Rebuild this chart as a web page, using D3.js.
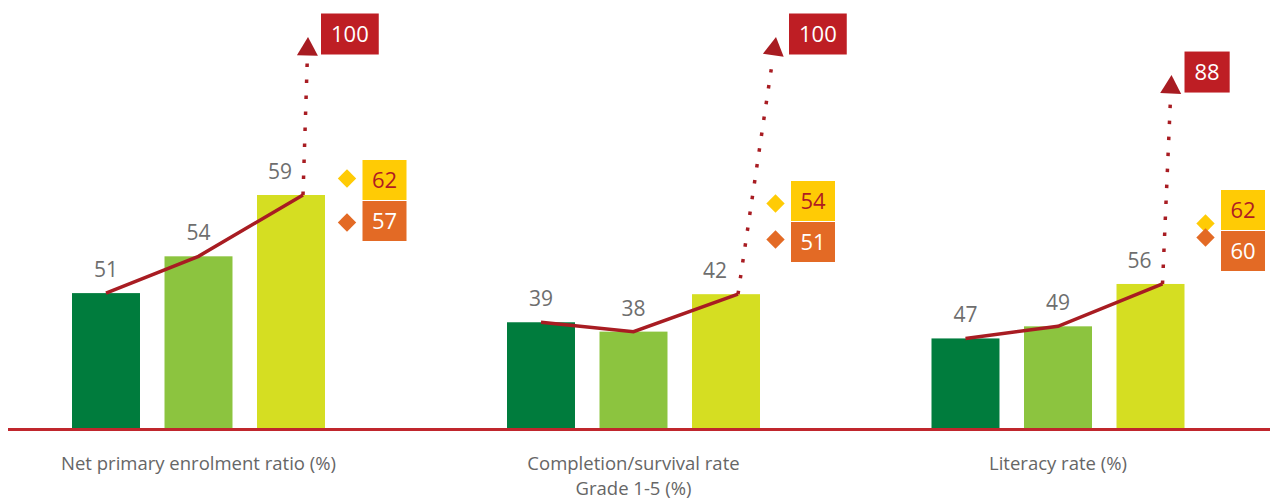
<!DOCTYPE html>
<html>
<head>
<meta charset="utf-8">
<title>Education indicators</title>
<script src="https://d3js.org/d3.v7.min.js"></script>
<style>
  * { margin: 0; padding: 0; }
  body { background: #fff; font-family: "Open Sans", "Noto Sans", sans-serif; }
  .val { fill: #6e6e6e; font-size: 21px; }
  .cat { fill: #666; font-size: 18.5px; }
  .box-txt { font-size: 22px; }
</style>
</head>
<body>
<div id="chart"></div>
<script>
// data
const categories = ["Net primary enrolment ratio (%)", "Completion/survival rate|Grade 1-5 (%)", "Literacy rate (%)"];
const series1 = [51, 39, 47];
const series2 = [54, 38, 49];
const series3 = [59, 42, 56];
const targets = [100, 100, 88];
const benchYellow = [62, 54, 62];
const benchOrange = [57, 51, 60];

// each group is drawn on its own truncated scale in the original
const groupDomains = [[40, 59], [27.7, 52.6], [32.2, 70.7]];

const W = 1270, H = 502;
const baseY = 428;
const barColors = ["#007c3d", "#8cc43f", "#d5de22"];
const red = "#a81c22";

const svg = d3.select("#chart").append("svg").attr("width", W).attr("height", H);

const xGroup = d3.scaleOrdinal().domain(categories).range([198.5, 633.5, 1058]);
const xBar = d3.scaleBand().domain([0, 1, 2]).range([-126.5, 126.5]).paddingInner(0.265).paddingOuter(0);
const yTarget = d3.scaleLinear().domain([0, 100]).range([354, 37]);

// layout tweaks per group
const arrowDx = [5, 38, 9];
const benchTop = [160, 181, 190];
const benchDx = [164, 157.5, 163];
const diamondSpread = [44, 36, 14];

const allSeries = [series1, series2, series3];

categories.forEach((cat, gi) => {
  const y = d3.scaleLinear().domain(groupDomains[gi]).range([baseY, 195]);
  const gx = xGroup(cat);
  const g = svg.append("g").attr("transform", `translate(${gx},0)`);

  const vals = allSeries.map(s => s[gi]);

  g.selectAll("rect.bar").data(vals).enter().append("rect")
    .attr("class", "bar")
    .attr("x", (d, i) => xBar(i))
    .attr("width", xBar.bandwidth())
    .attr("y", d => y(d))
    .attr("height", d => baseY - y(d))
    .attr("fill", (d, i) => barColors[i]);

  g.selectAll("text.val").data(vals).enter().append("text")
    .attr("class", "val")
    .attr("x", (d, i) => xBar(i) + xBar.bandwidth() / 2 - (i === 2 ? 11 : 0))
    .attr("y", d => y(d) - 16)
    .attr("text-anchor", "middle")
    .text(d => d);

  const pts = vals.map((d, i) => [xBar(i) + xBar.bandwidth() / 2 + (i === 2 ? 12 : 0), y(d)]);

  // dotted arrow to the target
  const start = pts[2];
  const tip = [start[0] + arrowDx[gi], yTarget(targets[gi])];
  const dx = tip[0] - start[0], dy = tip[1] - start[1];
  const len = Math.sqrt(dx * dx + dy * dy);
  const ux = dx / len, uy = dy / len;
  const end = [tip[0] - ux * 24, tip[1] - uy * 24];
  g.append("line")
    .attr("x1", start[0]).attr("y1", start[1])
    .attr("x2", end[0]).attr("y2", end[1])
    .attr("stroke", red).attr("stroke-width", 3.5)
    .attr("stroke-dasharray", "3.5 12.5");
  const ang = Math.atan2(dx, -dy) * 180 / Math.PI;
  g.append("path")
    .attr("d", "M0,0 L-10.5,18.5 L10.5,18.5 Z")
    .attr("transform", `translate(${tip[0]},${tip[1]}) rotate(${ang})`)
    .attr("fill", red);

  // solid trend line
  g.append("path")
    .attr("d", d3.line()(pts))
    .attr("fill", "none")
    .attr("stroke", red)
    .attr("stroke-width", 3.5);

  // target box
  const tg = g.append("g");
  const tt = tg.append("text").attr("class", "box-txt")
    .attr("fill", "#fff")
    .attr("x", tip[0] + 13 + 10)
    .attr("y", tip[1] - 3)
    .attr("dy", "0.36em")
    .text(targets[gi]);
  const tw = tt.node().getComputedTextLength();
  tg.insert("rect", "text")
    .attr("x", tip[0] + 13).attr("y", tip[1] - 3 - 20.5)
    .attr("width", tw + 20).attr("height", 41)
    .attr("fill", "#be1e24");

  // benchmark boxes with diamonds
  const bx = benchDx[gi], bw = 44, bh = 40;
  const benches = [
    { v: benchYellow[gi], fill: "#ffcb05", txt: "#b01c22" },
    { v: benchOrange[gi], fill: "#e36a25", txt: "#fff" }
  ];
  const mid = benchTop[gi] + bh + 0.5;
  benches.forEach((b, k) => {
    const top = benchTop[gi] + k * (bh + 1);
    g.append("rect")
      .attr("x", bx).attr("y", top)
      .attr("width", bw).attr("height", bh)
      .attr("fill", b.fill);
    g.append("text").attr("class", "box-txt")
      .attr("x", bx + bw / 2).attr("y", top + bh / 2)
      .attr("dy", "0.36em")
      .attr("text-anchor", "middle")
      .attr("fill", b.txt)
      .text(b.v);
    const dyd = (k === 0 ? -1 : 1) * diamondSpread[gi] / 2;
    g.append("rect")
      .attr("x", -6.5).attr("y", -6.5)
      .attr("width", 13).attr("height", 13)
      .attr("transform", `translate(${bx - 15.5},${mid + dyd}) rotate(45)`)
      .attr("fill", b.fill);
  });

  // category label
  const lines = cat.split("|");
  lines.forEach((t, li) => {
    svg.append("text").attr("class", "cat")
      .attr("x", gx)
      .attr("y", 470 + li * 25)
      .attr("text-anchor", "middle")
      .text(t);
  });
});

// baseline
svg.append("line")
  .attr("x1", 8).attr("x2", W)
  .attr("y1", 429.5).attr("y2", 429.5)
  .attr("stroke", "#c0262d").attr("stroke-width", 3);
</script>
</body>
</html>
